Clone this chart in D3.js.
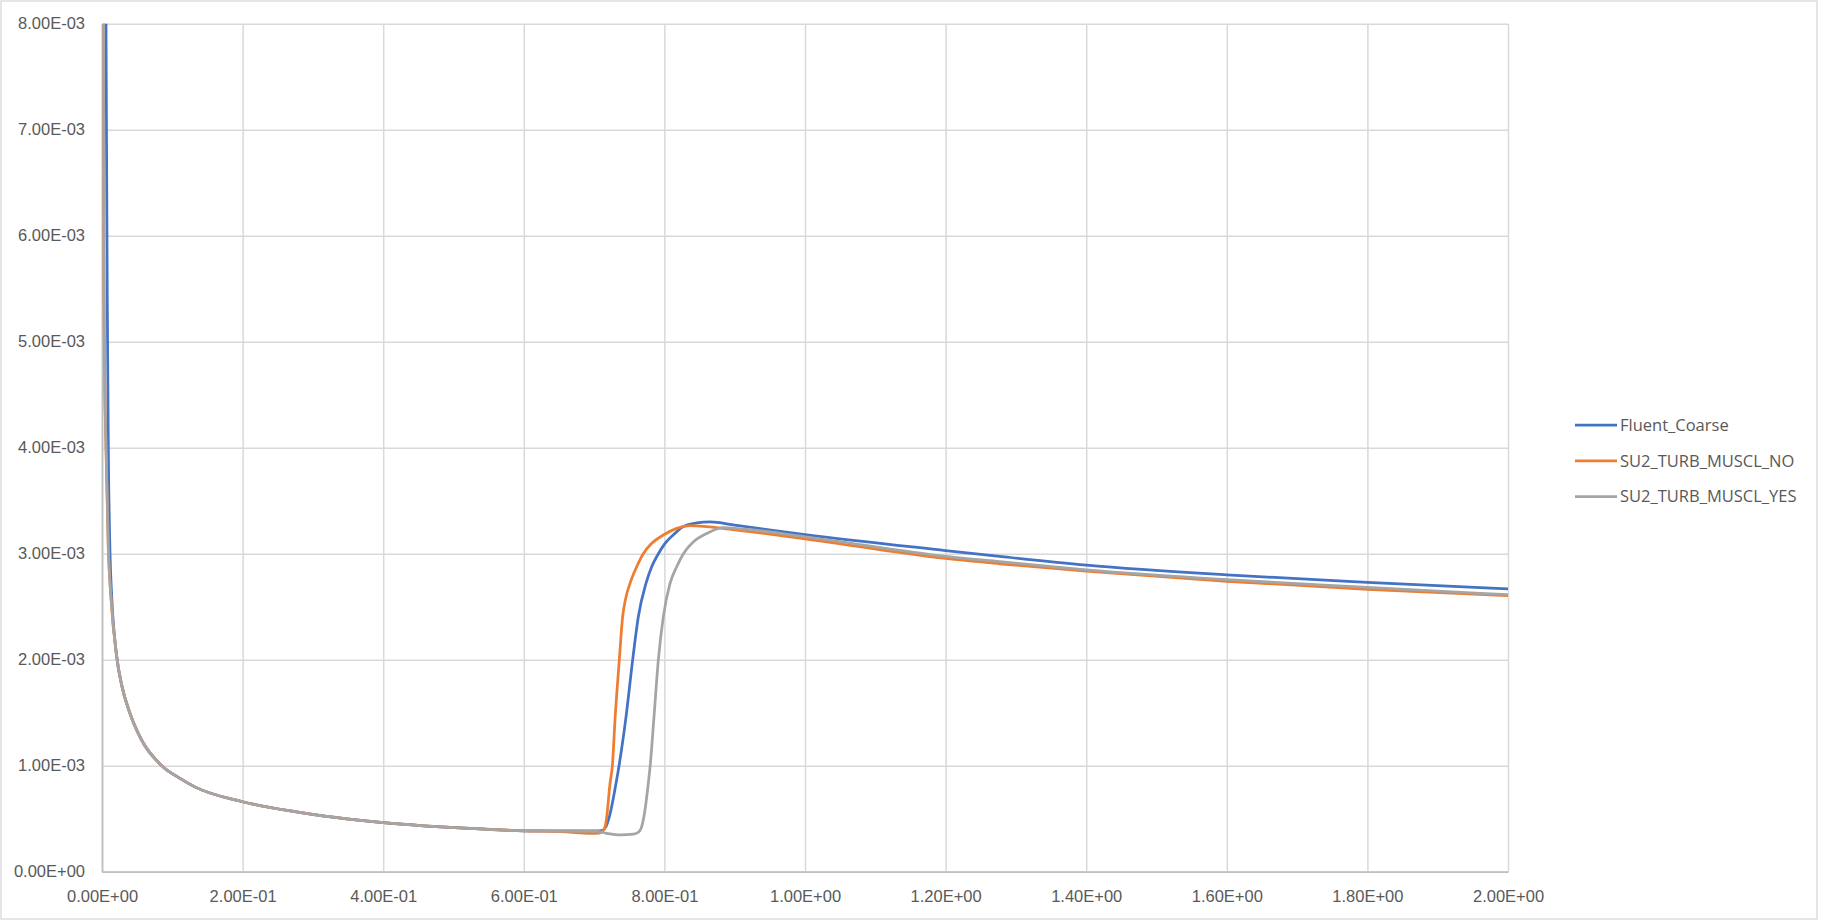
<!DOCTYPE html>
<html>
<head>
<meta charset="utf-8">
<style>
  body { margin: 0; background: #fff; }
  svg { display: block; font-family: 'Open Sans', 'Liberation Sans', Arial, sans-serif; }
  .tick text { fill: #595959; font-size: 16.5px; }
  .legend text { fill: #595959; font-size: 16.5px; }
</style>
</head>
<body>
<svg width="1823" height="921"></svg>
<script src="https://d3js.org/d3.v7.min.js"></script>
<script>
// x (position) and y (value)
let fluentX = [0.004, 0.0057, 0.0075, 0.009, 0.0114, 0.0138, 0.0209, 0.028, 0.04, 0.0565, 0.085, 0.111, 0.132, 0.2, 0.2745, 0.4, 0.5377, 0.6, 0.7037, 0.712, 0.7165, 0.7217, 0.7312, 0.7355, 0.7454, 0.7549, 0.7629, 0.7738, 0.7819, 0.7914, 0.8009, 0.815, 0.827, 0.846, 0.865, 0.9, 1.0, 1.2, 1.277, 1.4, 1.6, 1.8, 2.0]
let fluentY = [10.5e-3, 8.0e-3, 5.4e-3, 4.0e-3, 3.0e-3, 2.6e-3, 2.03e-3, 1.76e-3, 1.49e-3, 1.24e-3, 1.0e-3, 0.88e-3, 0.80e-3, 0.66e-3, 0.566e-3, 0.462e-3, 0.403e-3, 0.386e-3, 0.385e-3, 0.39e-3, 0.42e-3, 0.52e-3, 0.834e-3, 1.0e-3, 1.46e-3, 2.0e-3, 2.406e-3, 2.72e-3, 2.877e-3, 3.0e-3, 3.098e-3, 3.192e-3, 3.255e-3, 3.29e-3, 3.30e-3, 3.27e-3, 3.18e-3, 3.03e-3, 2.975e-3, 2.893e-3, 2.80e-3, 2.73e-3, 2.667e-3]

let musclNoX = [0, 0.0025, 0.0035, 0.0057, 0.009, 0.0124, 0.0209, 0.028, 0.04, 0.0565, 0.085, 0.111, 0.132, 0.2, 0.2745, 0.4, 0.5377, 0.6, 0.66, 0.694, 0.707, 0.712, 0.7155, 0.718, 0.7226, 0.726, 0.730, 0.7359, 0.7406, 0.745, 0.7511, 0.7606, 0.770, 0.782, 0.7985, 0.8175, 0.8364, 0.9, 1.0, 1.2, 1.277, 1.4, 1.6, 1.8, 2.0]
let musclNoY = [30e-3, 5.9e-3, 4.9e-3, 4.0e-3, 3.05e-3, 2.62e-3, 2.03e-3, 1.76e-3, 1.49e-3, 1.24e-3, 1.0e-3, 0.88e-3, 0.80e-3, 0.66e-3, 0.566e-3, 0.462e-3, 0.403e-3, 0.386e-3, 0.375e-3, 0.362e-3, 0.365e-3, 0.38e-3, 0.42e-3, 0.52e-3, 0.83e-3, 1.0e-3, 1.46e-3, 2.0e-3, 2.406e-3, 2.58e-3, 2.72e-3, 2.877e-3, 3.0e-3, 3.098e-3, 3.176e-3, 3.239e-3, 3.264e-3, 3.225e-3, 3.14e-3, 2.955e-3, 2.905e-3, 2.835e-3, 2.74e-3, 2.664e-3, 2.604e-3]

let musclYesX = [0, 0.0025, 0.0035, 0.0057, 0.009, 0.0124, 0.0209, 0.028, 0.04, 0.0565, 0.085, 0.111, 0.132, 0.2, 0.2745, 0.4, 0.5377, 0.6, 0.7037, 0.718, 0.737, 0.756, 0.7635, 0.7677, 0.7724, 0.7771, 0.7798, 0.7852, 0.7914, 0.7985, 0.808, 0.8175, 0.827, 0.841, 0.860, 0.884, 0.9, 1.0, 1.2, 1.277, 1.4, 1.6, 1.8, 2.0]
let musclYesY = [30e-3, 5.9e-3, 4.9e-3, 4.0e-3, 3.05e-3, 2.62e-3, 2.03e-3, 1.76e-3, 1.49e-3, 1.24e-3, 1.0e-3, 0.88e-3, 0.80e-3, 0.66e-3, 0.566e-3, 0.462e-3, 0.403e-3, 0.386e-3, 0.380e-3, 0.362e-3, 0.348e-3, 0.355e-3, 0.375e-3, 0.425e-3, 0.582e-3, 0.834e-3, 1.0e-3, 1.46e-3, 2.0e-3, 2.406e-3, 2.72e-3, 2.877e-3, 3.0e-3, 3.11e-3, 3.19e-3, 3.245e-3, 3.24e-3, 3.16e-3, 2.975e-3, 2.925e-3, 2.848e-3, 2.755e-3, 2.683e-3, 2.613e-3]

let seriesNames = ["Fluent_Coarse", "SU2_TURB_MUSCL_NO", "SU2_TURB_MUSCL_YES"]
let seriesColors = ["#4472C4", "#ED7D31", "#A5A5A5"]

let xTicks = [0, 0.2, 0.4, 0.6, 0.8, 1.0, 1.2, 1.4, 1.6, 1.8, 2.0]
let yTicks = [0, 0.001, 0.002, 0.003, 0.004, 0.005, 0.006, 0.007, 0.008]

let svg = d3.select("svg")
let margin = { top: 23.7, right: 315, bottom: 49.3, left: 102 }
let width = 1823, height = 921
let plotW = width - margin.left - margin.right
let plotH = height - margin.top - margin.bottom

// outer chart border
svg.append("rect")
    .attr("x", 1).attr("y", 1)
    .attr("width", 1816).attr("height", 918)
    .attr("fill", "#fff")
    .attr("stroke", "#d9d9d9")
    .attr("stroke-width", 1.3)

let x = d3.scaleLinear().domain([0, 2]).range([0, plotW])
let y = d3.scaleLinear().domain([0, 0.008]).range([plotH, 0])

// 8.00E-03 style labels
function sci(v) {
    let s = v.toExponential(2).toUpperCase()
    return s.replace(/E([+-])(\d)$/, (m, sign, d) => "E" + sign + "0" + d)
}

let g = svg.append("g").attr("transform", `translate(${margin.left},${margin.top})`)

// gridlines
g.append("g")
    .attr("class", "grid")
    .call(d3.axisLeft(y).tickValues(yTicks).tickSize(-plotW).tickFormat(""))
    .call(a => a.select(".domain").remove())
    .call(a => a.selectAll("line").attr("stroke", "#d9d9d9").attr("stroke-width", 1.5))

g.append("g")
    .attr("class", "grid")
    .attr("transform", `translate(0,${plotH})`)
    .call(d3.axisBottom(x).tickValues(xTicks).tickSize(-plotH).tickFormat(""))
    .call(a => a.select(".domain").remove())
    .call(a => a.selectAll("line").attr("stroke", "#d9d9d9").attr("stroke-width", 1.5))

// axes with labels
g.append("g")
    .call(d3.axisLeft(y).tickValues(yTicks).tickSize(0).tickPadding(17).tickFormat(sci))
    .call(a => a.select(".domain").attr("stroke", "#bfbfbf").attr("stroke-width", 1.75))

g.append("g")
    .attr("transform", `translate(0,${plotH})`)
    .call(d3.axisBottom(x).tickValues(xTicks).tickSize(0).tickPadding(18.6).tickFormat(sci))
    .call(a => a.select(".domain").attr("stroke", "#bfbfbf").attr("stroke-width", 1.75))

// clip lines to the plot box
svg.append("clipPath").attr("id", "plot-clip")
    .append("rect")
    .attr("x", 0).attr("y", 0)
    .attr("width", plotW).attr("height", plotH)

let line = d3.line()
    .x(d => x(d[0]))
    .y(d => y(d[1]))
    .curve(d3.curveMonotoneX)

let allSeries = [
    d3.zip(fluentX, fluentY),
    d3.zip(musclNoX, musclNoY),
    d3.zip(musclYesX, musclYesY)
]

g.append("g")
    .attr("clip-path", "url(#plot-clip)")
    .selectAll("path")
    .data(allSeries)
    .join("path")
    .attr("d", line)
    .attr("fill", "none")
    .attr("stroke", (d, i) => seriesColors[i])
    .attr("stroke-width", 2.75)
    .attr("stroke-linejoin", "round")
    .attr("stroke-linecap", "round")

// legend
let legend = svg.append("g").attr("class", "legend")
    .attr("transform", "translate(1575,425)")

let items = legend.selectAll("g")
    .data(seriesNames)
    .join("g")
    .attr("transform", (d, i) => `translate(0,${i * 35.8})`)

items.append("line")
    .attr("x1", 0).attr("x2", 42)
    .attr("stroke", (d, i) => seriesColors[i])
    .attr("stroke-width", 2.75)

items.append("text")
    .attr("x", 45)
    .attr("dy", "0.35em")
    .text(d => d)
</script>
</body>
</html>
